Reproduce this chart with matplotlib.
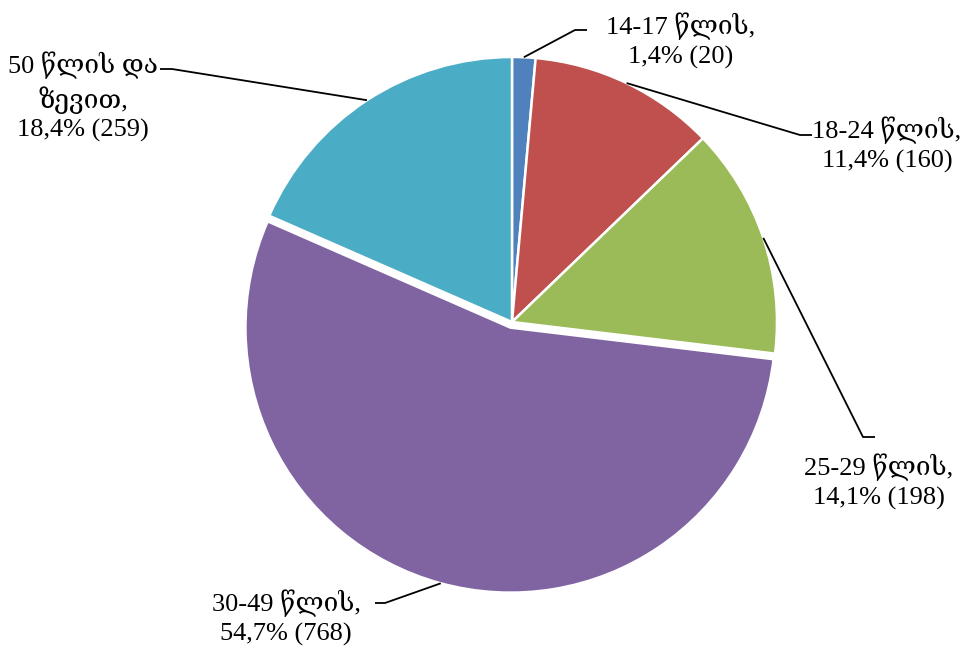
import numpy as np
import matplotlib
matplotlib.use('Agg')
import matplotlib.pyplot as plt

categorias = ['14-17 წლის', '18-24 წლის', '25-29 წლის', '30-49 წლის', '50 წლის და\nზევით']
cantidades = [20, 160, 198, 768, 259]
colores = ['#4F81BD', '#C0504D', '#9BBB59', '#8064A2', '#4BACC6']

plt.rcParams['font.family'] = ['Liberation Serif', 'DejaVu Serif', 'DejaVu Sans']

W, H = 965, 654
fig = plt.figure(figsize=(W / 100, H / 100), dpi=100)
ax = fig.add_axes([0, 0, 1, 1])
ax.set_xlim(0, W)
ax.set_ylim(0, H)
ax.set_aspect('equal')
ax.axis('off')

centro = (512, H - 322)
radio = 265
# explode en matplotlib va en unidades de datos, no en fraccion del radio
explotar = [0, 0, 0, 0.022 * radio, 0]

cunas, _ = ax.pie(cantidades, colors=colores, startangle=90, counterclock=False,
                  center=centro, radius=radio, explode=explotar,
                  wedgeprops=dict(edgecolor='white', linewidth=1.8))
ax.set_xlim(0, W)
ax.set_ylim(0, H)

total = sum(cantidades)
# codo de la linea, final de la linea, posicion del texto (pixeles, y hacia abajo)
guias = [
    ((575, 30), (587, 30), (681, 41)),
    ((800, 135), (812, 135), (887, 145)),
    ((863, 437), (875, 437), (879, 482)),
    ((385, 603), (375, 603), (286, 618)),
    ((172, 69), (160, 69), (83, 97)),
]

for cuna, cat, n, (codo, fin, pos) in zip(cunas, categorias, cantidades, guias):
    ang = np.deg2rad((cuna.theta1 + cuna.theta2) / 2)
    cx, cy = cuna.center
    x0 = cx + cuna.r * np.cos(ang)
    y0 = cy + cuna.r * np.sin(ang)
    ax.plot([x0, codo[0], fin[0]], [y0, H - codo[1], H - fin[1]],
            color='black', linewidth=1.3, solid_capstyle='butt')
    pct = f"{100 * n / total:.1f}".replace('.', ',')
    texto = f"{cat},\n{pct}% ({n})"
    ax.text(pos[0], H - pos[1], texto, ha='center', va='center',
            multialignment='center', fontsize=19, linespacing=1.32)

fig.savefig('out.png', dpi=100)
